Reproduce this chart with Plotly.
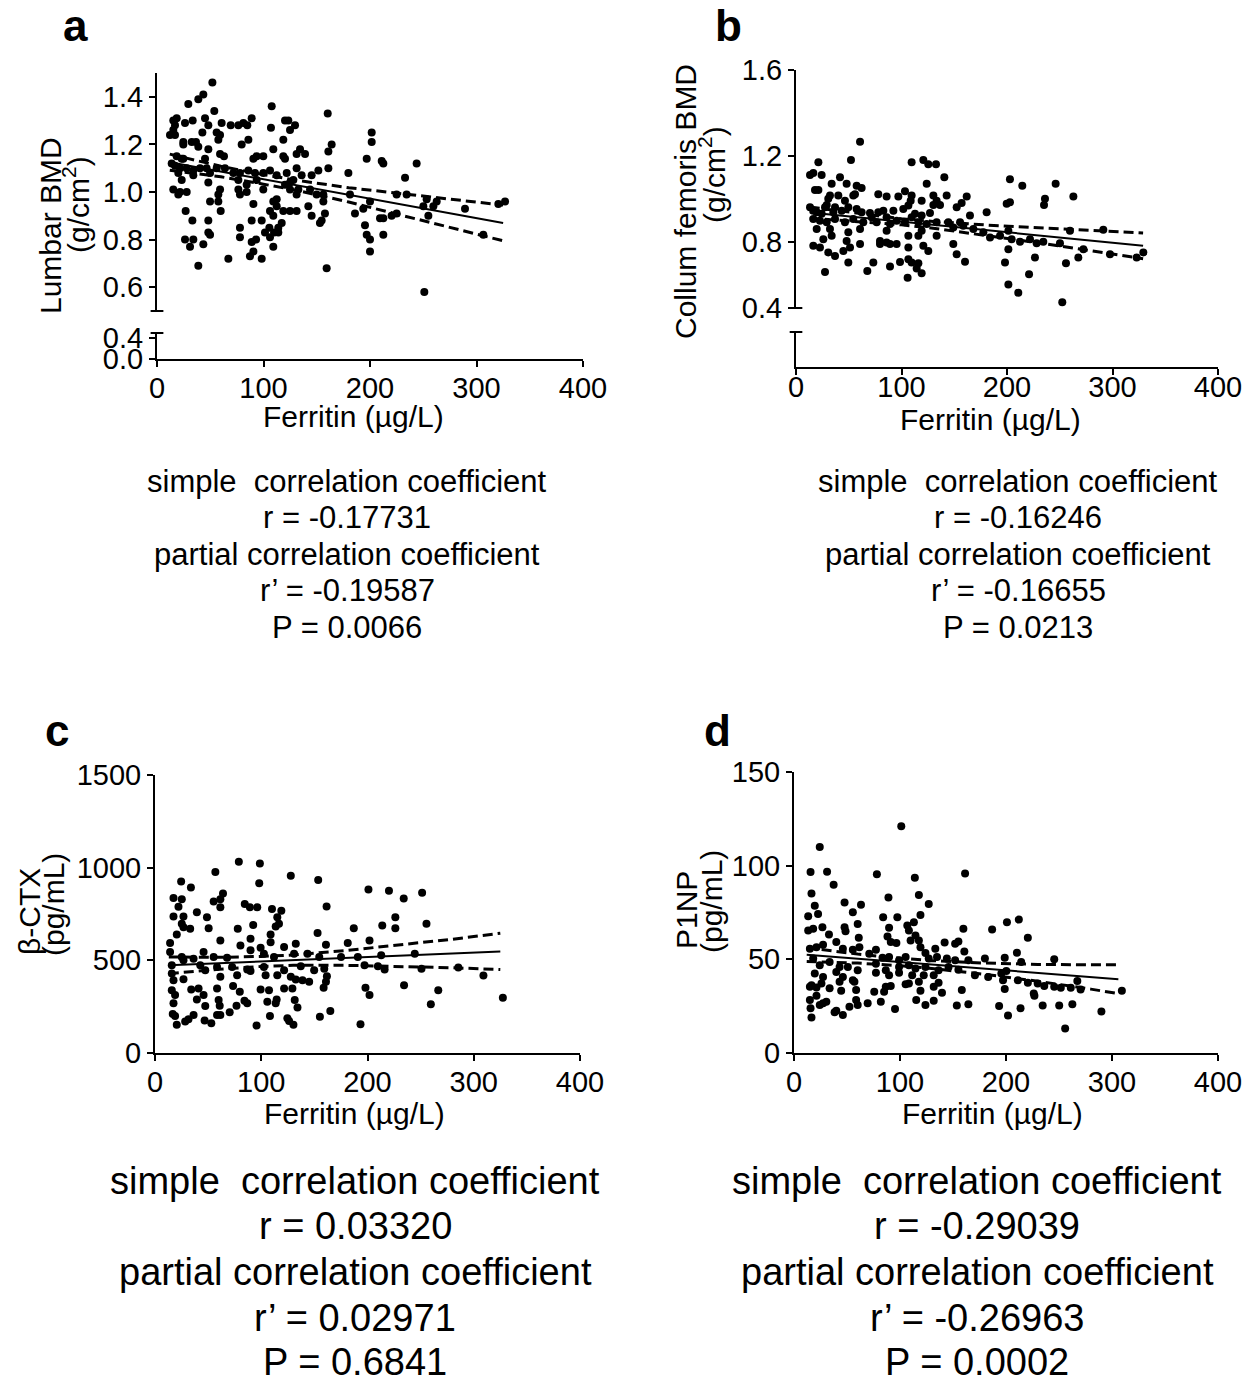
import plotly.graph_objects as go

W, H = 1250, 1379
OFF = 8  # page margin around the plot div
FONT = "Liberation Sans, Arial, Helvetica, sans-serif"

# ---------- data ----------
x_ticks = [0, 100, 200, 300, 400]

# a: Lumbar BMD vs ferritin
a_ferritin = [52, 43.5, 38.8, 29.4, 107.7, 53.8, 160.3,
              18.5, 15.3, 26.3, 33.5, 45.1, 48.2, 60.7, 69.2, 76.4, 81.1, 84.8, 88.9, 120.2, 123.3, 129.6, 107, 124.9, 16.9, 15.3, 12.2, 16.9, 56, 59.2, 201.6, 42.6,
              118.6, 85.8, 57.6, 24.7, 32.6, 38.8, 79.5, 164, 201.6, 24.7, 36.6,
              48.2, 109.2, 134.3, 131.1, 139, 59.2, 62.9, 93.6, 99.8, 118.6, 120.2, 160.9, 196.9, 211, 212.5, 243.8, 90.5, 18.5, 23.2, 24.7, 45.1,
              13.8, 16.9, 21.6, 27.9, 34.1, 40.4, 46.6, 49.8, 56, 63.8, 71.7, 77.9, 85.8, 92, 99.8, 106.1, 112.4, 121.8, 128, 135.8, 131.1, 145.2, 151.5, 160.9, 179.7, 34.1, 20, 23.2, 48.2, 76.4, 84.2, 93.6, 232.9, 124.9, 120.2,
              15.3, 21.6, 27.9, 20, 59.2, 57.6, 76.4, 77.9, 84.2, 99.8, 124.9, 132.7, 143.7, 149.9, 156.2, 131.1, 181.2, 225, 234.4, 253.2, 262.6, 326.8, 320.5, 49.8, 57.6, 112.4, 250.1, 259.5, 289.2, 200,
              90.5, 109.2, 112.4, 118.6, 106.1, 109.2, 124.9, 131.1, 142.1, 156.2, 157.7, 145.2, 185.9, 193.7, 26.9, 59.8, 209.4, 212.5, 225, 220.3, 254.8,
              33.2, 48.2, 88.9, 98.3, 117.1, 113.9, 154.6, 153, 195.3, 77.9, 105.5, 101.4, 109.9, 113.9, 77.9, 106.1, 48.2, 49.8, 196.9, 200, 212.5, 306.4, 26.3, 34.1,
              88.9, 93, 31, 43.5, 109.2, 90.5, 87.3, 200, 67, 98.3, 38.8, 159.3, 251]
a_bmd = [1.46, 1.41, 1.39, 1.37, 1.36, 1.34, 1.33,
         1.31, 1.30, 1.29, 1.30, 1.31, 1.28, 1.29, 1.28, 1.28, 1.29, 1.28, 1.31, 1.30, 1.30, 1.28, 1.27, 1.26, 1.28, 1.26, 1.24, 1.24, 1.25, 1.24, 1.25, 1.25,
         1.22, 1.22, 1.22, 1.21, 1.21, 1.19, 1.20, 1.20, 1.21, 1.20, 1.21,
         1.18, 1.18, 1.18, 1.16, 1.16, 1.16, 1.15, 1.15, 1.15, 1.15, 1.14, 1.17, 1.14, 1.13, 1.12, 1.12, 1.14, 1.15, 1.14, 1.14, 1.14,
         1.12, 1.11, 1.10, 1.10, 1.09, 1.10, 1.10, 1.08, 1.10, 1.10, 1.08, 1.08, 1.09, 1.08, 1.08, 1.09, 1.07, 1.08, 1.05, 1.07, 1.10, 1.07, 1.09, 1.10, 1.08, 1.07, 1.08, 1.05, 1.04, 1.05, 1.03, 1.05, 1.06, 1.04, 1.03,
         1.01, 1.00, 1.00, 0.99, 1.01, 0.99, 1.01, 0.99, 1.00, 1.01, 1.01, 1.01, 1.01, 0.99, 0.99, 0.99, 0.99, 0.99, 0.99, 0.97, 0.96, 0.96, 0.95, 0.96, 0.96, 0.97, 0.94, 0.94, 0.93, 0.96,
         0.95, 0.96, 0.94, 0.92, 0.92, 0.90, 0.92, 0.92, 0.94, 0.96, 0.91, 0.90, 0.91, 0.93, 0.92, 0.92, 0.89, 0.89, 0.91, 0.90, 0.90,
         0.88, 0.88, 0.88, 0.88, 0.87, 0.85, 0.88, 0.87, 0.86, 0.85, 0.85, 0.83, 0.83, 0.83, 0.81, 0.81, 0.83, 0.82, 0.82, 0.80, 0.82, 0.82, 0.80, 0.80,
         0.79, 0.80, 0.77, 0.78, 0.77, 0.75, 0.73, 0.75, 0.72, 0.72, 0.69, 0.68, 0.58]
a_fit_x = [12, 325]
a_fit_y = [1.125, 0.87]
a_band_x = [12, 60, 100, 130, 180, 230, 280, 325]
a_band_hi = [1.159, 1.108, 1.073, 1.05, 1.018, 0.992, 0.967, 0.945]
a_band_lo = [1.091, 1.064, 1.033, 1.008, 0.958, 0.902, 0.847, 0.795]
a_yticks = [0.6, 0.8, 1.0, 1.2, 1.4]
a_low_yticks = [0.0, 0.4]
a_stats = ["simple\u00a0 correlation coefficient", "r = -0.17731",
           "partial correlation coefficient", "r\u2019 = -0.19587", "P = 0.0066"]

# b: Collum femoris BMD vs ferritin
b_ferritin = [60.7, 52.1, 21.2, 109.6, 120.7, 125.4, 132.7, 140.6, 13.3, 16.4, 24.3, 41.7, 33.8, 48, 123.9, 202.8, 214.5, 246.1, 57.5, 62.2,
              18, 21.2, 55.9, 54.3, 78, 85.9, 97, 103.3, 109.6, 108.7, 119.1, 130.2, 133.3, 142.8, 130.2, 136.5, 161.8, 157, 152.3, 199.7,
              202.8, 236, 235.1, 262.9, 32.2, 40.1, 30.6, 46.4, 29.1, 37,
              13.3, 16.4, 19.6, 24.3, 27.5, 35.4, 43.3, 49.6, 57.5, 62.2, 70.1, 78, 82.8, 92.3, 101.7, 106.5, 112.8, 119.1, 127,
              16.4, 22.7, 29.1, 37, 46.4, 54.3, 63.8, 71.7, 76.5, 85.9, 89.1, 95.4, 103.3, 109.6, 116, 123.9, 133.3, 144.4, 155.5, 164.9, 180.7,
              149.1, 158.6, 168.1, 177.6, 183.9, 193.4, 201.3, 204.4, 212.3, 221.8, 228.1, 234.4, 250.2, 259.7, 291.3, 329.2, 322.9, 297.6, 272.4,
              19.6, 32.2, 25.9, 33.8, 49.6, 60.7, 48, 60.7, 85.9, 79.6, 85.9, 95.4, 106.5, 116, 119.1, 133.3, 16.4, 22.7, 30.6, 37,
              44.9, 51.2, 79.6, 89.1, 106.5, 120.7, 125.4, 149.1, 152.3, 160.2, 201.3, 198.1, 226.5, 267.6, 27.5, 49.6, 67.6, 73.3, 89.1, 98.6,
              106.5, 109.6, 116, 119.1, 114.4, 105.8, 201.3, 210.7, 220.9, 255.9, 252.4]
b_bmd = [1.265, 1.18, 1.17, 1.17, 1.18, 1.16, 1.16, 1.10, 1.11, 1.12, 1.11, 1.10, 1.07, 1.07, 1.07, 1.09, 1.06, 1.07, 1.06, 1.05,
         1.04, 1.04, 1.02, 1.015, 1.02, 1.01, 1.01, 1.035, 1.015, 0.99, 0.99, 1.015, 0.99, 1.015, 0.97, 0.97, 1.01, 0.98, 0.96, 0.976,
         0.983, 1.00, 0.97, 1.01, 1.015, 1.015, 1.00, 0.99, 0.97, 0.96,
         0.96, 0.944, 0.936, 0.93, 0.96, 0.936, 0.944, 0.96, 0.952, 0.936, 0.933, 0.936, 0.944, 0.944, 0.952, 0.968, 0.929, 0.921, 0.933,
         0.905, 0.897, 0.89, 0.905, 0.89, 0.905, 0.89, 0.913, 0.89, 0.913, 0.882, 0.897, 0.89, 0.913, 0.89, 0.882, 0.89, 0.89, 0.89, 0.921, 0.936,
         0.866, 0.874, 0.858, 0.843, 0.819, 0.827, 0.85, 0.811, 0.799, 0.811, 0.792, 0.799, 0.792, 0.85, 0.855, 0.749, 0.725, 0.741, 0.764,
         0.858, 0.858, 0.811, 0.827, 0.843, 0.858, 0.803, 0.788, 0.85, 0.803, 0.795, 0.788, 0.827, 0.827, 0.85, 0.827, 0.78, 0.772, 0.749, 0.733,
         0.756, 0.772, 0.788, 0.788, 0.772, 0.78, 0.756, 0.788, 0.741, 0.706, 0.764, 0.702, 0.725, 0.725, 0.658, 0.702, 0.663, 0.702, 0.683, 0.705,
         0.717, 0.702, 0.699, 0.652, 0.674, 0.631, 0.60, 0.561, 0.647, 0.699, 0.517]
b_fit_x = [13, 329]
b_fit_y = [0.935, 0.78]
b_band_x = [13, 60, 100, 130, 180, 230, 280, 329]
b_band_hi = [0.961, 0.93, 0.906, 0.894, 0.877, 0.864, 0.851, 0.84]
b_band_lo = [0.909, 0.894, 0.878, 0.862, 0.829, 0.794, 0.757, 0.72]
b_yticks = [0.49, 0.8, 1.2, 1.6]
b_yticktext = ["0.4", "0.8", "1.2", "1.6"]
b_stats = ["simple\u00a0 correlation coefficient", "r = -0.16246",
           "partial correlation coefficient", "r\u2019 = -0.16655", "P = 0.0213"]

# c: beta-CTX vs ferritin
c_ferritin = [78.9, 98.7, 56.8, 24.6, 33.8, 98.1, 127.8, 153.6, 200.9, 220.2,
              234.1, 251.4, 17.4, 25.2, 22.1, 55.2, 61.5, 64, 61.5, 84.5,
              89.3, 96.2, 110.1, 118.9, 161.5, 39.4, 17.4, 26.8, 48.9, 115.1,
              116.7, 113.6, 25.2, 26.8, 33.1, 50.5, 77.9, 92.4, 226.2, 226.2,
              213.9, 255.5, 187.1, 153, 20.5, 108.8, 61.5, 80.4, 89.9, 99.4,
              108.8, 121.5, 132.5, 160.9, 181.4, 201.9, 14.2, 25.2, 36.3, 45.7,
              55.2, 67.8, 89.9, 102.5, 112, 130.9, 143.5, 154.6, 175.1, 190.9,
              212.9, 244.5, 15.8, 26.8, 42.6, 58.4, 72.6, 86.8, 102.5, 121.5,
              137.2, 149.8, 159.3, 197.2, 209.8, 216.1, 250.8, 285.5, 15.8, 26.8,
              17.4, 47.3, 61.5, 77.3, 89.9, 104.1, 115.1, 127.8, 132.5, 138.8,
              145.1, 161.8, 160.9, 309.1, 34.1, 41, 45.7, 58.4, 73.5, 79.8,
              99.4, 107.3, 121.5, 129.3, 158.7, 198.1, 201.9, 234.4, 266.6, 15.8,
              18.9, 39.4, 47.3, 59.9, 60.9, 76.7, 84.2, 86.8, 105.7, 114.5,
              113.6, 131.5, 134.1, 259.6, 327.4, 17.4, 16.7, 18.9, 36.3, 31.5,
              28.4, 46.7, 53, 58.4, 61.5, 70.3, 108.2, 124.6, 126.2, 130.3,
              155.2, 165, 20.5, 95.6, 193.4, 14.2]
c_ctx = [1032, 1023, 977, 925, 893, 916, 957, 934, 882, 875,
         834, 864, 836, 830, 789, 818, 830, 861, 786, 804,
         786, 786, 777, 768, 791, 759, 736, 736, 732, 732,
         697, 682, 697, 679, 670, 673, 670, 691, 732, 673,
         688, 697, 673, 648, 639, 639, 607, 580, 616, 568,
         598, 572, 589, 584, 593, 607, 593, 518, 509, 545,
         518, 514, 554, 536, 518, 536, 536, 518, 518, 518,
         527, 536, 473, 500, 473, 464, 464, 450, 464, 446,
         468, 446, 455, 473, 468, 450, 455, 461, 429, 398,
         393, 446, 411, 420, 443, 420, 420, 411, 396, 393,
         384, 414, 384, 418, 343, 348, 313, 348, 361, 330,
         343, 339, 348, 348, 352, 352, 313, 366, 339, 339,
         313, 289, 254, 286, 255, 255, 282, 268, 277, 289,
         268, 286, 246, 263, 298, 268, 211, 200, 205, 182,
         170, 175, 161, 205, 205, 220, 200, 188, 173, 152,
         196, 227, 152, 148, 155, 545]
c_fit_x = [13, 325]
c_fit_y = [473, 548]
c_band_x = [13, 60, 100, 130, 180, 230, 280, 325]
c_band_hi = [518, 516, 521, 529, 553, 583, 614, 646]
c_band_lo = [428, 452, 467, 473, 473, 467, 460, 450]
c_yticks = [0, 500, 1000, 1500]
c_stats = ["simple\u00a0 correlation coefficient", "r = 0.03320",
           "partial correlation coefficient", "r\u2019 = 0.02971", "P = 0.6841"]

# d: P1NP vs ferritin
d_ferritin = [101.2, 24.3, 15.6, 31.2, 78.2, 161.4, 114, 37.4, 16.5, 19.6,
              22.7, 47.7, 63.2, 55.5, 89.1, 117.8, 127.1, 119.3, 13.4, 84.1,
              97.5, 13.4, 18.1, 26.8, 33, 47.7, 48.6, 60.1, 61.1, 89.7,
              106.9, 113.1, 108.4, 114.6, 159.8, 186.9, 200.9, 212.1, 220.6, 142.1,
              152, 155.1, 39.9, 91.3, 96.6, 88.2, 77.3, 110, 117.8, 119.3,
              124, 133.3, 160.7, 210.3, 15, 21.2, 27.4, 46.1, 55.5, 61.7,
              71, 83.5, 89.7, 99.1, 105.3, 127.1, 134.9, 144.2, 152, 164.5,
              180.1, 198.8, 214.3, 245.5, 18.1, 24.3, 33.6, 43, 50.8, 60.1,
              77.3, 86.6, 99.1, 108.4, 114.6, 124, 136.4, 145.8, 155.1, 170.7,
              183.2, 195.6, 200.3, 19.6, 27.4, 39.9, 46.1, 55.5, 77.3, 89.7,
              99.1, 111.5, 122.4, 131.8, 197.2, 198.8, 211.2, 220.6, 229.9, 236.1,
              245.5, 251.7, 267.3, 261.1, 270.4, 309.3, 16.5, 15, 21.2, 25.9,
              33.6, 43, 44.5, 57, 58.6, 85, 75.7, 86.6, 91.3, 105.3,
              108.4, 117.8, 119.3, 131.8, 136.4, 139.6, 158.3, 226.2, 226.8, 15,
              21.2, 24.3, 27.4, 30.5, 39.9, 46.1, 52.3, 58.6, 60.1, 69.5,
              81.9, 95.3, 115.3, 124, 131.8, 153.6, 164.5, 193.5, 201.9, 213.7,
              234.6, 250.2, 262.6, 290, 16.5, 15.6, 38.3, 255.8]
d_p1np = [121, 109.9, 96.6, 96.8, 95.4, 95.8, 93.6, 89.8, 85.2, 78.6,
          74.2, 80.4, 79.2, 75.1, 83, 84.3, 79.5, 73.7, 73, 72.4,
          72.4, 65.4, 66.3, 67.1, 63.3, 67.1, 65, 68.9, 61.5, 66.8,
          68, 69.8, 65.4, 62.7, 66.3, 65.9, 69.8, 71.2, 61.5, 59,
          58.3, 59.5, 59.2, 59.2, 58.7, 62.2, 55.1, 60.1, 60.1, 56.5,
          53.4, 55.7, 54.2, 53.5, 55.7, 56.5, 57.8, 55.7, 55.1, 56.5,
          53, 50.9, 51.2, 49.5, 51.2, 50.4, 51.2, 50.4, 49.5, 49.5,
          50.4, 50.9, 48.6, 50, 50.4, 46.8, 48.6, 45.9, 45.9, 44.2,
          47.7, 44.2, 45.9, 46.8, 45.1, 45.9, 44.2, 45.9, 44.5, 41.5,
          40.6, 42.4, 43.8, 42.4, 40.6, 43.3, 40.6, 38.9, 42.8, 41.5,
          42.8, 41.5, 41.5, 41.5, 38.9, 34.1, 38.9, 37.5, 37.1, 35.7,
          35.3, 34.8, 38.5, 34.8, 33.9, 33.2, 36.2, 35.3, 35, 37.1,
          34.5, 38, 33.2, 38, 33.6, 32.7, 32.7, 35.3, 35.7, 36.7,
          37.1, 38, 33.2, 35.3, 37.5, 32.2, 33.6, 31.8, 30.6, 28.3,
          30.6, 25.6, 26.5, 27.4, 22.6, 20.3, 24.7, 28.3, 25.6, 26.5,
          27.4, 23.5, 28.3, 25.6, 27.9, 25.3, 26, 25.1, 20, 23.9,
          25.3, 25.3, 26, 22.1, 18.9, 23.9, 21.7, 13.1]
d_fit_x = [12, 306]
d_fit_y = [52.5, 39.4]
d_band_x = [12, 60, 100, 130, 180, 230, 280, 306]
d_band_hi = [56.2, 52.8, 50.6, 49.3, 48.0, 47.3, 47.1, 47.1]
d_band_lo = [48.8, 48.0, 46.6, 45.1, 42.0, 38.3, 34.1, 31.7]
d_yticks = [0, 50, 100, 150]
d_stats = ["simple\u00a0 correlation coefficient", "r = -0.29039",
           "partial correlation coefficient", "r\u2019 = -0.26963", "P = 0.0002"]


# page pixel -> paper fraction (the plot div sits OFF px inside the page)
def px(p):
    return (p - OFF) / W


def py(p):
    return 1 - (p - OFF) / H


fig = go.Figure()


def add_panel(xs, ys, fx, fy, bx, bhi, blo, xa, ya):
    fig.add_trace(go.Scatter(x=xs, y=ys, mode="markers", xaxis=xa, yaxis=ya,
                             marker=dict(color="black", size=8), cliponaxis=False))
    fig.add_trace(go.Scatter(x=fx, y=fy, mode="lines", xaxis=xa, yaxis=ya,
                             line=dict(color="black", width=2)))
    for band in (bhi, blo):
        fig.add_trace(go.Scatter(x=bx, y=band, mode="lines", xaxis=xa, yaxis=ya,
                                 line=dict(color="black", width=3, dash="10px,5px")))


add_panel(a_ferritin, a_bmd, a_fit_x, a_fit_y, a_band_x, a_band_hi, a_band_lo, "x", "y")
add_panel(b_ferritin, b_bmd, b_fit_x, b_fit_y, b_band_x, b_band_hi, b_band_lo, "x2", "y3")
add_panel(c_ferritin, c_ctx, c_fit_x, c_fit_y, c_band_x, c_band_hi, c_band_lo, "x3", "y5")
add_panel(d_ferritin, d_p1np, d_fit_x, d_fit_y, d_band_x, d_band_hi, d_band_lo, "x4", "y6")

# empty traces so the lower (broken) axis segments get drawn
for xa, ya in [("x", "y2"), ("x2", "y4")]:
    fig.add_trace(go.Scatter(x=[None], y=[None], mode="markers", xaxis=xa, yaxis=ya,
                             hoverinfo="skip"))

ax = dict(showgrid=False, zeroline=False, showline=True, linecolor="black", linewidth=2,
          ticks="outside", ticklen=6, tickwidth=2, tickcolor="black", automargin=False,
          tickfont=dict(size=29, color="black", family=FONT))
xax = dict(ax, range=[0, 400], tickvals=x_ticks, ticklabelstandoff=-4)

fig.update_layout(
    template="none",
    width=W, height=H, showlegend=False,
    margin=dict(l=0, r=0, t=0, b=0, pad=0),
    paper_bgcolor="white", plot_bgcolor="white",
    font=dict(family=FONT, color="black"),
    xaxis=dict(xax, domain=[px(157), px(583)], anchor="y2"),
    yaxis=dict(ax, domain=[py(311), py(73)], range=[0.5, 1.5], anchor="x",
               tickvals=a_yticks, tickformat=".1f"),
    yaxis2=dict(ax, domain=[py(359), py(333)], range=[0, 0.495], anchor="x",
                tickvals=a_low_yticks, tickformat=".1f"),
    xaxis2=dict(xax, domain=[px(796), px(1218)], anchor="y4", ticklabelstandoff=-13),
    yaxis3=dict(ax, domain=[py(308), py(70)], range=[0.49, 1.6], anchor="x2",
                tickvals=b_yticks, ticktext=b_yticktext),
    yaxis4=dict(ax, domain=[py(367), py(332)], range=[0, 1], anchor="x2",
                ticks="", showticklabels=False),
    xaxis3=dict(xax, domain=[px(155), px(580)], anchor="y5"),
    yaxis5=dict(ax, domain=[py(1053), py(775)], range=[0, 1500], anchor="x3",
                tickvals=c_yticks),
    xaxis4=dict(xax, domain=[px(794), px(1218)], anchor="y6"),
    yaxis6=dict(ax, domain=[py(1053), py(772)], range=[0, 150], anchor="x4",
                tickvals=d_yticks),
)

# axis break caps
for xr, yr, yv in [("x", "y", 0), ("x", "y2", 1), ("x2", "y3", 0), ("x2", "y4", 1)]:
    fig.add_shape(type="line", xref=xr + " domain", yref=yr + " domain",
                  x0=-0.015, x1=0.015, y0=yv, y1=yv, line=dict(color="black", width=2))


def label(text, x, y, size, angle=0):
    fig.add_annotation(text=text, x=px(x), y=py(y), xref="paper", yref="paper",
                       showarrow=False, textangle=angle, xanchor="center", yanchor="middle",
                       font=dict(size=size, color="black", family=FONT))


# panel letters
for letter, lx, ly in [("a", 75, 26), ("b", 728, 26), ("c", 57, 730), ("d", 718, 730)]:
    label("<b>" + letter + "</b>", lx, ly, 44)

# axis titles
for tx, ty in [(353, 416), (990, 419), (354, 1113), (992, 1113)]:
    label("Ferritin (\u00b5g/L)", tx, ty, 30)
label("Lumbar BMD", 51, 226, 30, -90)
label("(g/cm<sup>2</sup>)", 76, 205, 30, -90)
label("Collum femoris BMD", 686, 202, 30, -90)
label("(g/cm<sup>2</sup>)", 712, 175, 30, -90)
label("\u03b2-CTX", 29, 912, 30, -90)
label("(pg/mL)", 53, 905, 30, -90)
label("P1NP", 686, 910, 30, -90)
label("(pg/mL)", 711, 902, 30, -90)

# correlation text blocks
for lines, cx, ys, size in [(a_stats, 347, [481, 518, 554, 591, 627], 31),
                            (b_stats, 1018, [481, 518, 554, 591, 627], 31),
                            (c_stats, 355, [1181, 1226, 1272, 1318, 1362], 38),
                            (d_stats, 977, [1181, 1226, 1272, 1318, 1362], 38)]:
    for line, ly in zip(lines, ys):
        label(line, cx, ly, size)

fig.write_html("out.html")
